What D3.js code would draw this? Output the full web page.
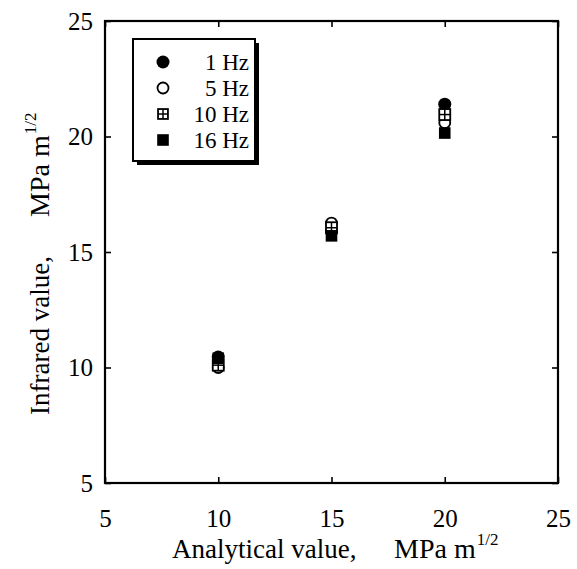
<!DOCTYPE html>
<html>
<head>
<meta charset="utf-8">
<script src="https://cdn.jsdelivr.net/npm/d3@7"></script>
<style>
  html, body { margin: 0; padding: 0; background: #fff; }
  svg { display: block; }
  text { font-family: "Liberation Serif", "Times New Roman", serif; fill: #000; }
</style>
</head>
<body>
<svg id="chart" width="577" height="569"></svg>
<script>
// Analytical stress-intensity values on the x axis
const analytical = [10, 15, 20];

// Infrared-derived values at each loading frequency
const series = ["1 Hz", "5 Hz", "10 Hz", "16 Hz"];
const hz1  = [10.45, 15.9, 21.4];
const hz5  = [10.0, 16.25, 20.6];
const hz10 = [10.1, 16.05, 20.95];
const hz16 = [10.4, 15.7, 20.15];

const xTicks = [5, 10, 15, 20, 25];
const yTicks = [5, 10, 15, 20, 25];

const svg = d3.select("#chart");
const plot = { left: 105, right: 558, top: 21, bottom: 483 };

const x = d3.scaleLinear().domain([5, 25]).range([plot.left, plot.right]);
const y = d3.scaleLinear().domain([5, 25]).range([plot.bottom, plot.top]);

// Ticks point inward on all four sides
const tickLen = 6;
const axisStyle = g => {
  g.selectAll(".domain").remove();
  g.selectAll(".tick line").attr("stroke", "#000").attr("stroke-width", 1.6);
};
const labelStyle = g => g.selectAll(".tick text")
  .attr("font-size", 25).attr("font-family", "Liberation Serif").attr("fill", "#000");

svg.append("g")
  .attr("transform", `translate(0,${plot.bottom})`)
  .call(d3.axisBottom(x).tickValues(xTicks).tickSize(-tickLen).tickPadding(26))
  .call(axisStyle).call(labelStyle);

svg.append("g")
  .attr("transform", `translate(0,${plot.top})`)
  .call(d3.axisTop(x).tickValues(xTicks).tickSize(-tickLen).tickFormat(""))
  .call(axisStyle);

svg.append("g")
  .attr("transform", `translate(${plot.left},0)`)
  .call(d3.axisLeft(y).tickValues(yTicks).tickSize(-tickLen).tickPadding(12))
  .call(axisStyle).call(labelStyle);

svg.append("g")
  .attr("transform", `translate(${plot.right},0)`)
  .call(d3.axisRight(y).tickValues(yTicks).tickSize(-tickLen).tickFormat(""))
  .call(axisStyle);

// Plot frame
svg.append("rect")
  .attr("x", plot.left).attr("y", plot.top)
  .attr("width", plot.right - plot.left).attr("height", plot.bottom - plot.top)
  .attr("fill", "none").attr("stroke", "#000").attr("stroke-width", 2.2);

// Marker painters
function drawMarker(g, kind, cx, cy, s) {
  if (kind === 0) {
    g.append("circle").attr("cx", cx).attr("cy", cy).attr("r", 6.5 * s).attr("fill", "#000");
  } else if (kind === 1) {
    g.append("circle").attr("cx", cx).attr("cy", cy).attr("r", 5.5 * s)
      .attr("fill", "#fff").attr("stroke", "#000").attr("stroke-width", 1.8);
  } else if (kind === 2) {
    const h = 5.5 * s;
    g.append("rect").attr("x", cx - h).attr("y", cy - h).attr("width", 2 * h).attr("height", 2 * h)
      .attr("fill", "#fff").attr("stroke", "#000").attr("stroke-width", 1.8);
    g.append("line").attr("x1", cx - h).attr("x2", cx + h).attr("y1", cy).attr("y2", cy)
      .attr("stroke", "#000").attr("stroke-width", 1.5);
    g.append("line").attr("x1", cx).attr("x2", cx).attr("y1", cy - h).attr("y2", cy + h)
      .attr("stroke", "#000").attr("stroke-width", 1.5);
  } else {
    const h = 5.8 * s;
    g.append("rect").attr("x", cx - h).attr("y", cy - h).attr("width", 2 * h).attr("height", 2 * h)
      .attr("fill", "#000");
  }
}

// Data points
const allSeries = [hz1, hz5, hz10, hz16];
const pts = svg.append("g");
allSeries.forEach((vals, k) => {
  vals.forEach((v, i) => drawMarker(pts, k, x(analytical[i]), y(v), 1));
});

// Legend with drop shadow
const lg = svg.append("g");
const lb = { x: 133, y: 39, w: 122, h: 122 };
lg.append("rect").attr("x", lb.x + 4).attr("y", lb.y + 4).attr("width", lb.w).attr("height", lb.h).attr("fill", "#000");
lg.append("rect").attr("x", lb.x).attr("y", lb.y).attr("width", lb.w).attr("height", lb.h)
  .attr("fill", "#fff").attr("stroke", "#000").attr("stroke-width", 2);
series.forEach((name, k) => {
  const cy = 62 + k * 26;
  drawMarker(lg, k, 163, cy, k === 2 ? 0.9 : 1);
  lg.append("text").attr("x", 249).attr("y", cy + 8)
    .attr("text-anchor", "end").attr("font-size", 23).text(name);
});

// Axis titles: quantity, then unit after a wide gap, then the 1/2 exponent
function axisTitle(g, label, unitAt) {
  const t = g.append("text").attr("font-size", 27);
  t.append("tspan").attr("x", 0).text(label);
  t.append("tspan").attr("x", unitAt).attr("font-size", 28).text("MPa m");
  t.append("tspan").attr("dy", -13).attr("dx", 1).attr("font-size", 17).text("1/2");
}
axisTitle(svg.append("g").attr("transform", "translate(172,558)"), "Analytical value,", 222);
axisTitle(svg.append("g").attr("transform", "translate(49,415) rotate(-90)"), "Infrared value,", 198);
</script>
</body>
</html>
